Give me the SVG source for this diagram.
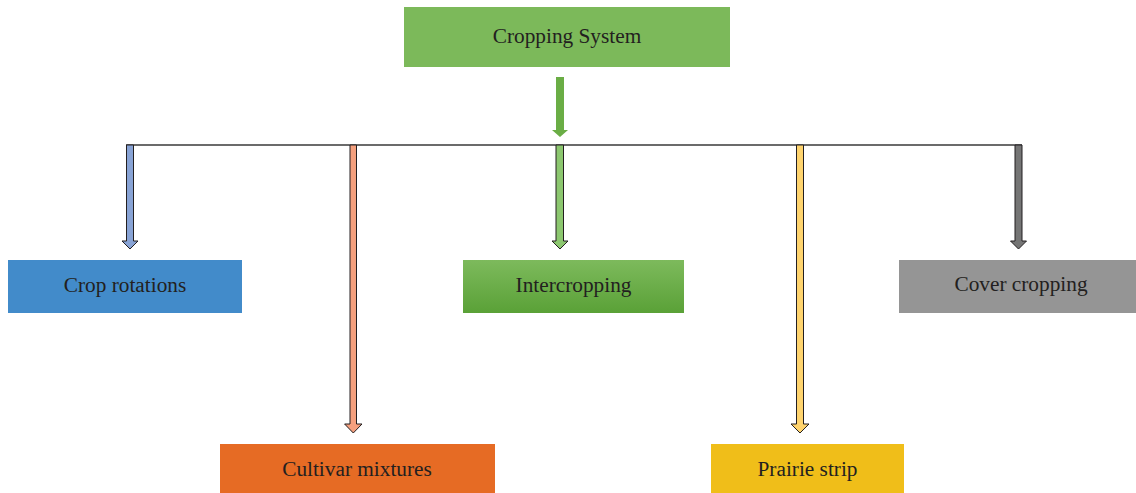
<svg xmlns="http://www.w3.org/2000/svg" width="1136" height="493" viewBox="0 0 1136 493">
<style>
text{font-family:"Liberation Serif","Times New Roman",serif;font-size:21.3px;fill:#231f20;text-anchor:middle}
.arr{stroke:#231f20;stroke-width:1;stroke-linejoin:miter}
</style>
<defs>
<linearGradient id="gi" x1="0" y1="0" x2="0" y2="1">
<stop offset="0" stop-color="#7dba5c"/>
<stop offset="1" stop-color="#5aa137"/>
</linearGradient>
</defs>
<rect width="1136" height="493" fill="#ffffff"/>
<g id="connectors">
<path d="M556 77 H564 V130 H568 L560 137 L552 130 H556 Z" fill="#6aad45"/>
<line x1="126" y1="145" x2="1022" y2="145" stroke="#3a3a3a" stroke-width="1.3"/>
<path class="arr" d="M126.5 145 H133.5 V241 H138 L130 249 L122 241 H126.5 Z" fill="#88a3d5"/>
<path class="arr" d="M350 145 H356.5 V424 H362 L353.3 433 L344.6 424 H350 Z" fill="#f5a07e"/>
<path class="arr" d="M556 145 H563.5 V241 H568 L560 249 L552 241 H556 Z" fill="#8cc76f"/>
<path class="arr" d="M796.5 145 H803.5 V424 H809 L800 433 L791 424 H796.5 Z" fill="#ffd46e"/>
<path class="arr" d="M1015 145 H1022 V241 H1026.5 L1018.5 249 L1010.5 241 H1015 Z" fill="#757575"/>
</g>
<g id="cropping-system">
<rect x="404" y="7" width="326" height="60" fill="#7cb95a"/>
<text x="567" y="43">Cropping System</text>
</g>
<g id="crop-rotations">
<rect x="8" y="260" width="234" height="53" fill="#428bca"/>
<text x="125" y="292">Crop rotations</text>
</g>
<g id="intercropping">
<rect x="463" y="260" width="221" height="53" fill="url(#gi)"/>
<text x="573.5" y="292">Intercropping</text>
</g>
<g id="cover-cropping">
<rect x="899" y="260" width="237" height="53" fill="#959595"/>
<text x="1021" y="291">Cover cropping</text>
</g>
<g id="cultivar-mixtures">
<rect x="220" y="444" width="275" height="49" fill="#e66b24"/>
<text x="357" y="476">Cultivar mixtures</text>
</g>
<g id="prairie-strip">
<rect x="711" y="444" width="193" height="49" fill="#f0be19"/>
<text x="807.5" y="476">Prairie strip</text>
</g>
</svg>
